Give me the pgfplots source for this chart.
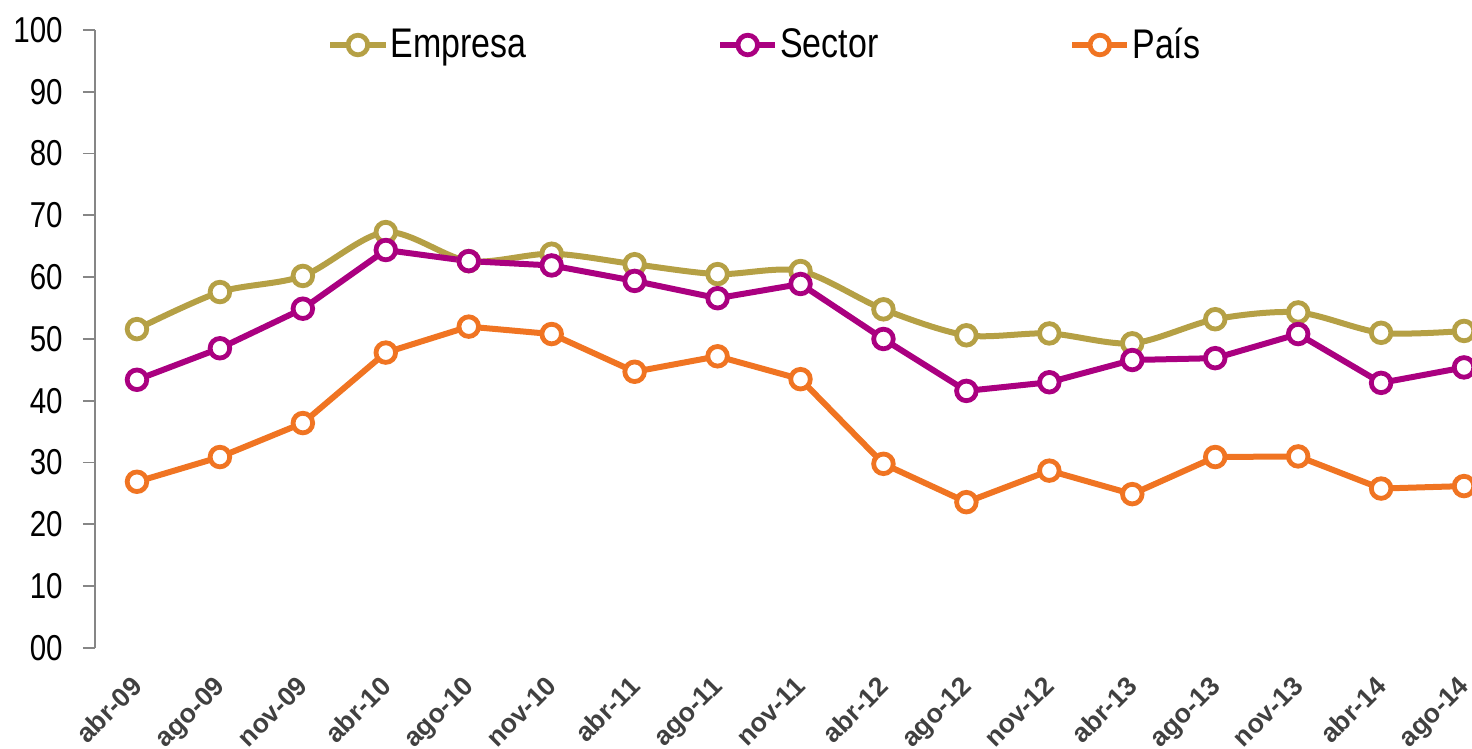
\documentclass[border=0pt]{standalone}
\usepackage{fontspec}
\setmainfont{Liberation Sans}[FakeStretch=0.82]
\newfontfamily\xfont{Liberation Sans}
\usepackage{pgfplots}
\pgfplotsset{compat=1.18}
\definecolor{cEmp}{HTML}{B5A045}
\definecolor{cSec}{HTML}{AA0080}
\definecolor{cPai}{HTML}{F07422}
\definecolor{axgray}{HTML}{868686}
\definecolor{xlab}{HTML}{404040}
\begin{document}
\begin{tikzpicture}
\begin{axis}[
  at={(47.5pt,50.5pt)}, anchor=south west,
  scale only axis, width=688.5pt, height=309pt,
  xmin=-0.506, xmax=16.096, ymin=0, ymax=100,
  axis lines=left,
  x axis line style={draw=none},
  y axis line style={-, draw=axgray, line width=0.9pt},
  ytick={0,10,...,100},
  yticklabels={00,10,20,30,40,50,60,70,80,90,100},
  xtick={0,...,16},
  xticklabels={abr-09,ago-09,nov-09,abr-10,ago-10,nov-10,abr-11,ago-11,nov-11,abr-12,ago-12,nov-12,abr-13,ago-13,nov-13,abr-14,ago-14},
  tick align=outside,
  y tick style={draw=axgray, line width=0.9pt},
  major tick length=6pt,
  x tick style={draw=none},
  yticklabel style={font=\fontsize{18}{18}\selectfont, inner sep=0pt, xshift=-10pt},
  xticklabel style={font=\xfont\bfseries\fontsize{13.3}{13.3}\selectfont, text=xlab, rotate=45, anchor=north east, inner sep=0pt, xshift=-7.4pt, yshift=-2.6pt},
  legend columns=3,
  legend style={at={(0.1685,0.9757)}, anchor=west, draw=none, fill=none, inner sep=0pt,
    font=\fontsize{20.7}{20.7}\selectfont,
    nodes={inner sep=0pt},
    /tikz/every odd column/.append style={column sep=1pt},
    /tikz/every even column/.append style={column sep=95.5pt}},
  legend image code/.code={\draw[mark repeat=2,mark phase=2,#1] plot coordinates {(0pt,0pt) (13.75pt,0pt) (27.5pt,0pt)};},
  every axis plot/.append style={line width=3pt, mark=*, mark size=4.9pt, mark options={fill=white, line width=2.4pt}},
  clip=false,
]
\addplot[color=cEmp, smooth, tension=0.5] coordinates {
(0,51.6) (1,57.6) (2,60.2) (3,67.3) (4,62.6) (5,63.8) (6,62.1) (7,60.5) (8,61.0) (9,54.8) (10,50.6) (11,50.9) (12,49.3) (13,53.2) (14,54.3) (15,51.0) (16,51.3)};
\addlegendentry{Empresa}
\addplot[color=cSec] coordinates {
(0,43.4) (1,48.5) (2,54.9) (3,64.4) (4,62.6) (5,61.9) (6,59.4) (7,56.6) (8,58.9) (9,50.0) (10,41.6) (11,43.0) (12,46.6) (13,46.9) (14,50.8) (15,42.9) (16,45.4)};
\addlegendentry{Sector}
\addplot[color=cPai] coordinates {
(0,26.9) (1,30.9) (2,36.4) (3,47.8) (4,52.0) (5,50.8) (6,44.7) (7,47.2) (8,43.5) (9,29.8) (10,23.6) (11,28.7) (12,24.9) (13,30.9) (14,31.0) (15,25.8) (16,26.2)};
\addlegendentry{País}
\end{axis}
\pgfresetboundingbox
\path[use as bounding box] (0pt,0pt) rectangle (736pt,374.5pt);
\end{tikzpicture}
\end{document}
